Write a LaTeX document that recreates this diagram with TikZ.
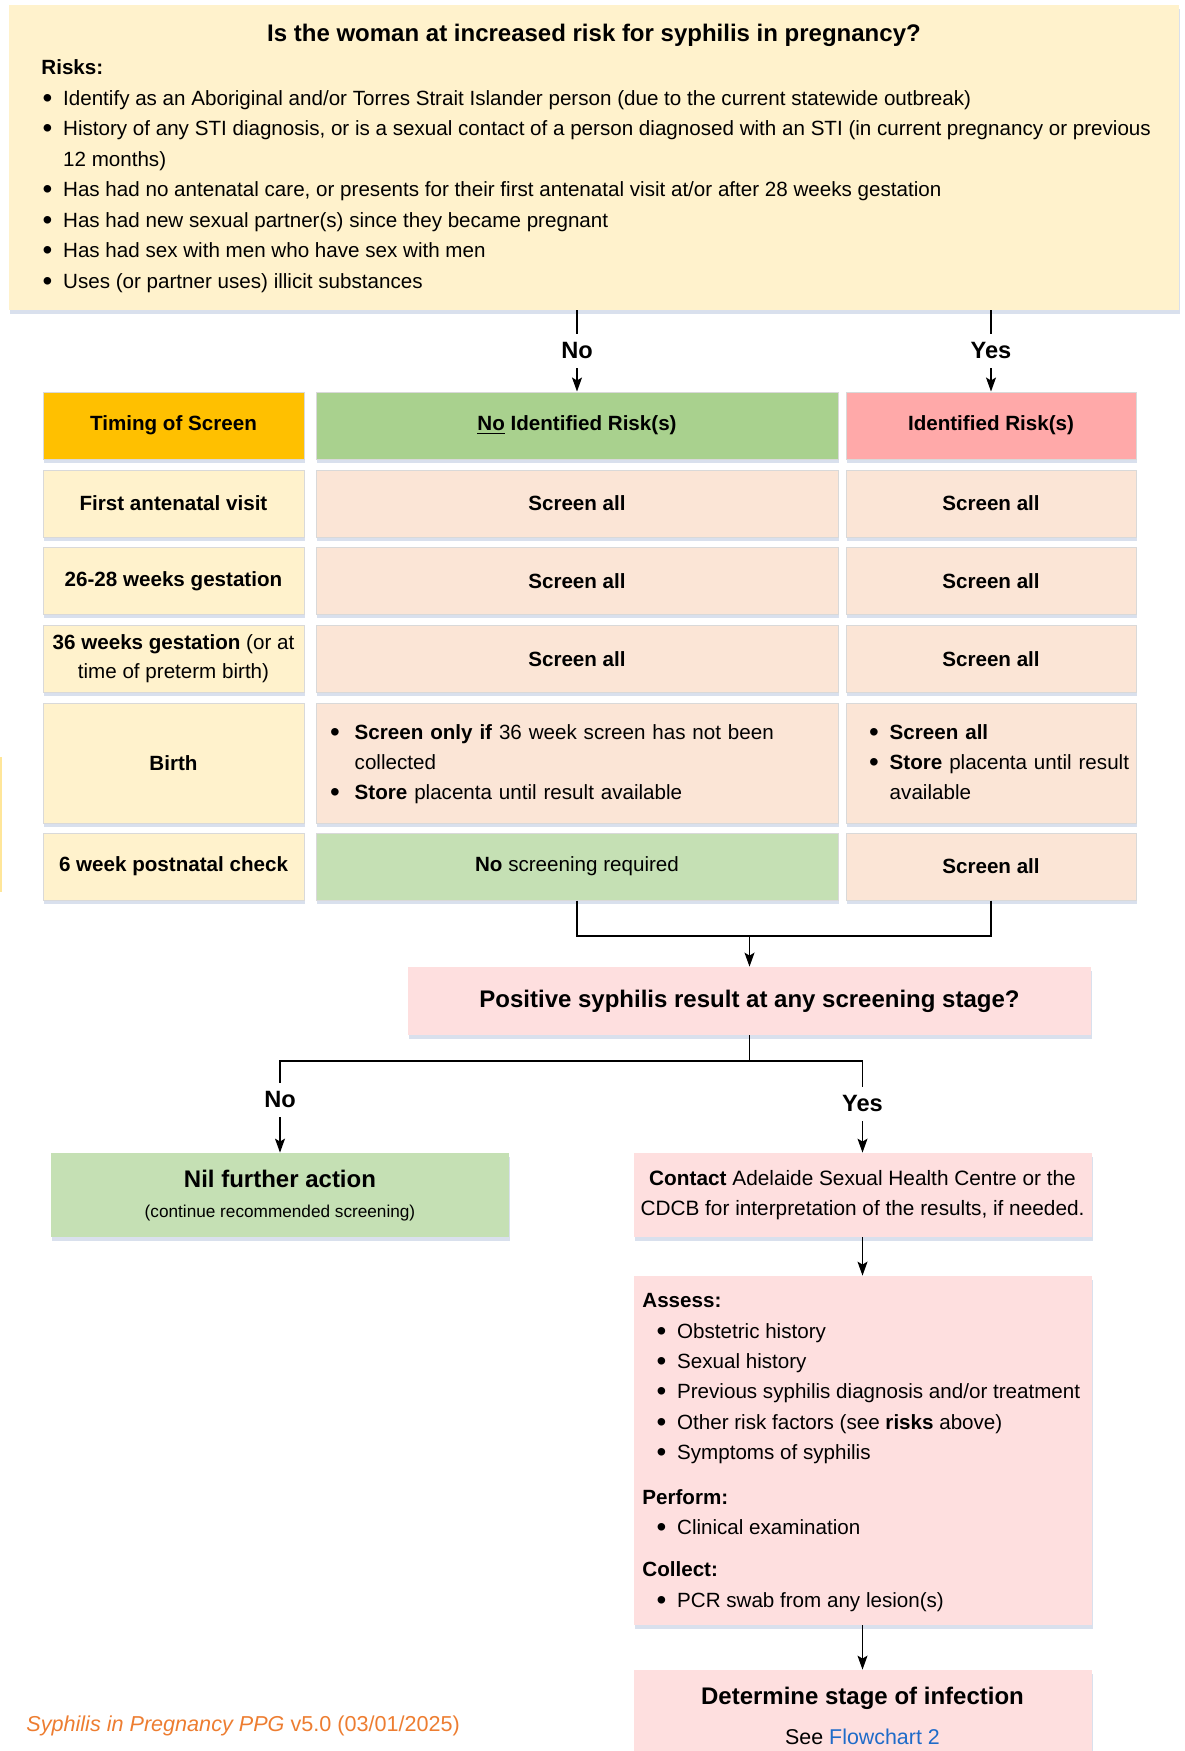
\documentclass[tikz,border=0pt]{standalone}
\usepackage{fontspec}
\setmainfont{Liberation Sans}
\usetikzlibrary{arrows.meta,shadows}

\definecolor{riskyellow}{HTML}{FFF2CC}
\definecolor{timinggold}{HTML}{FFC000}
\definecolor{norisk}{HTML}{A9D18E}
\definecolor{riskred}{HTML}{FFA9A9}
\definecolor{peach}{HTML}{FBE5D6}
\definecolor{palegreen}{HTML}{C5E0B4}
\definecolor{palepink}{HTML}{FEDFDF}
\definecolor{shadeblue}{HTML}{C9D3E6}
\definecolor{linkblue}{HTML}{1F6BC9}
\definecolor{footorange}{HTML}{ED7D31}
\definecolor{edgeyellow}{HTML}{FFE699}

\newcommand\bigdot{\raisebox{-0.1em}{\scalebox{1.35}{\textbullet}}}

\tikzset{
  softshade/.style={drop shadow={shadow xshift=0.5pt, shadow yshift=-1.8pt, fill=shadeblue, opacity=0.7}},
  cell/.style={draw=black!15, line width=0.5pt, softshade, inner sep=0pt, minimum height=33.5pt, align=center},
  labcell/.style={cell, fill=riskyellow, minimum width=130.5pt, font=\fontsize{10.3}{14.5}\selectfont\bfseries},
  nocell/.style={cell, fill=peach, minimum width=261pt, font=\fontsize{10.3}{15}\selectfont\bfseries},
  yescell/.style={cell, fill=peach, minimum width=145pt, font=\fontsize{10.3}{15}\selectfont\bfseries},
  pinkbox/.style={softshade, fill=palepink, inner sep=0pt},
  lbl/.style={fill=white, inner sep=4.5pt, font=\fontsize{11.8}{12}\selectfont\bfseries},
  link/.style={line width=0.65pt},
  arr/.style={link, -{Stealth[length=7pt,width=5pt,inset=1.5pt]}},
}

\begin{document}
\begin{tikzpicture}[x=0.5pt,y=-0.5pt]
\useasboundingbox (0,0) rectangle (1184,1751);

% risk question
\node[softshade, fill=riskyellow, minimum width=585pt, minimum height=152.5pt, inner sep=0pt] (risk) at (594,157.5) {};
\node[font=\fontsize{12}{14}\selectfont\bfseries] (qtitle) at (594,35) {Is the woman at increased risk for syphilis in pregnancy?};
\node[anchor=north west, inner sep=0pt, font=\fontsize{10.3}{15.25}\selectfont] (risklist) at (41,53) {%
\begin{tabular}{@{\hspace{0.6pt}}l@{\hspace{5.4pt}}l@{}}
\multicolumn{2}{@{}l@{}}{\textbf{Risks:}}\\
\bigdot & Identify as an Aboriginal and/or Torres Strait Islander person (due to the current statewide outbreak)\\
\bigdot & History of any STI diagnosis, or is a sexual contact of a person diagnosed with an STI (in current pregnancy or previous\\
 & 12 months)\\
\bigdot & Has had no antenatal care, or presents for their first antenatal visit at/or after 28 weeks gestation\\
\bigdot & Has had new sexual partner(s) since they became pregnant\\
\bigdot & Has had sex with men who have sex with men\\
\bigdot & Uses (or partner uses) illicit substances
\end{tabular}};

% table header
\node[labcell, fill=timinggold] (timehdr) at (173.5,425.5) {Timing of Screen};
\node[nocell, fill=norisk] (nohdr) at (577,425.5) {\underline{No} Identified Risk(s)};
\node[yescell, fill=riskred] (yeshdr) at (991,425.5) {Identified Risk(s)};

% rows
\node[labcell] (r1c1) at (173.5,503.5) {First antenatal visit};
\node[nocell] (r1c2) at (577,503.5) {Screen all};
\node[yescell] (r1c3) at (991,503.5) {Screen all};

\node[labcell] (r2c1) at (173.5,581) {26-28 weeks gestation};
\node[nocell] (r2c2) at (577,581) {Screen all};
\node[yescell] (r2c3) at (991,581) {Screen all};

\node[labcell, font=\fontsize{10.3}{14.5}\selectfont] (r3c1) at (173.5,659) {\textbf{36 weeks gestation} (or at\\time of preterm birth)};
\node[nocell] (r3c2) at (577,659) {Screen all};
\node[yescell] (r3c3) at (991,659) {Screen all};

\node[labcell, minimum height=60pt] (r4c1) at (173.5,763) {Birth};
\node[nocell, minimum height=60pt, text width=246.8pt, inner xsep=7.1pt, align=left, font=\fontsize{10.3}{15}\selectfont] (r4c2) at (577,763) {%
\begin{tabular}{@{}l@{\hspace{7.4pt}}l@{}}
\bigdot & \textbf{Screen only if} 36 week screen has not been\\
 & collected\\
\bigdot & \textbf{Store} placenta until result available
\end{tabular}};
\node[yescell, minimum height=60pt, text width=121.8pt, inner xsep=11.6pt, align=left, font=\fontsize{10.3}{15}\selectfont] (r4c3) at (991,763) {%
\begin{tabular}{@{}l@{\hspace{5.4pt}}l@{}}
\bigdot & \textbf{Screen all}\\
\bigdot & \textbf{Store} placenta until result\\
 & available
\end{tabular}};

\node[labcell] (r5c1) at (173.5,866.5) {6 week postnatal check};
\node[nocell, fill=palegreen, font=\fontsize{10.3}{15}\selectfont] (r5c2) at (577,866.5) {\textbf{No} screening required};
\node[yescell] (r5c3) at (991,866.5) {Screen all};

% result question
\node[pinkbox, minimum width=341.5pt, minimum height=34pt, font=\fontsize{12}{14}\selectfont\bfseries] (pos) at (749.5,1001) {Positive syphilis result at any screening stage?};

\node[softshade, fill=palegreen, minimum width=229pt, minimum height=42pt, inner sep=0pt] (nil) at (280,1195) {};
\node[font=\fontsize{12}{14}\selectfont\bfseries] (niltitle) at (280,1179) {Nil further action};
\node[font=\fontsize{8.6}{10}\selectfont] (nilnote) at (280,1213) {(continue recommended screening)};

\node[pinkbox, minimum width=229pt, minimum height=42pt, align=center, font=\fontsize{10.4}{15}\selectfont] (contact) at (862.5,1195) {\textbf{Contact} Adelaide Sexual Health Centre or the\\CDCB for interpretation of the results, if needed.};

\node[pinkbox, minimum width=229pt, minimum height=174.5pt] (assess) at (862.5,1450.5) {};
\node[anchor=north west, inner sep=0pt, font=\fontsize{10.3}{15.2}\selectfont] (assesslist) at (642,1286) {%
\begin{tabular}{@{\hspace{7.1pt}}l@{\hspace{5.4pt}}l@{}}
\multicolumn{2}{@{}l@{}}{\textbf{Assess:}}\\
\bigdot & Obstetric history\\
\bigdot & Sexual history\\
\bigdot & Previous syphilis diagnosis and/or treatment\\
\bigdot & Other risk factors (see \textbf{risks} above)\\
\bigdot & Symptoms of syphilis\\[7pt]
\multicolumn{2}{@{}l@{}}{\textbf{Perform:}}\\
\bigdot & Clinical examination\\[6pt]
\multicolumn{2}{@{}l@{}}{\textbf{Collect:}}\\
\bigdot & PCR swab from any lesion(s)
\end{tabular}};

\node[pinkbox, minimum width=229pt, minimum height=50pt] (stage) at (862.5,1720) {};
\node[font=\fontsize{12}{14}\selectfont\bfseries] (stagetitle) at (862.5,1698) {Determine stage of infection};
\node[font=\fontsize{10.7}{13}\selectfont] (stagesee) at (862.5,1737) {See \textcolor{linkblue}{Flowchart 2}};

\node[anchor=west, text=footorange, inner sep=0pt, font=\fontsize{10.8}{13}\selectfont] (footer) at (26,1726) {\textit{Syphilis in Pregnancy PPG} v5.0 (03/01/2025)};

\draw[edgeyellow, line width=1pt] (0.5,757) -- (0.5,892);

% connectors
\draw[arr] (risk.south -| nohdr.north) -- node[lbl]{No} (nohdr.north);
\draw[arr] (risk.south -| yeshdr.north) -- node[lbl]{Yes} (yeshdr.north);

\coordinate (merge) at (749.5,936);
\draw[link] (r5c2.south) |- (merge);
\draw[link] (r5c3.south) |- (merge);
\draw[arr] (merge) -- (pos.north);

\coordinate (split) at (749.5,1061);
\draw[link] (pos.south) -- (split);
\draw[arr] (split) -| node[lbl, pos=0.712]{No} (nil.north);
\draw[arr] (split) -| node[lbl, pos=0.734]{Yes} (contact.north);

\draw[arr] (contact.south) -- (assess.north);
\draw[arr] (assess.south) -- (stage.north);

\end{tikzpicture}
\end{document}
